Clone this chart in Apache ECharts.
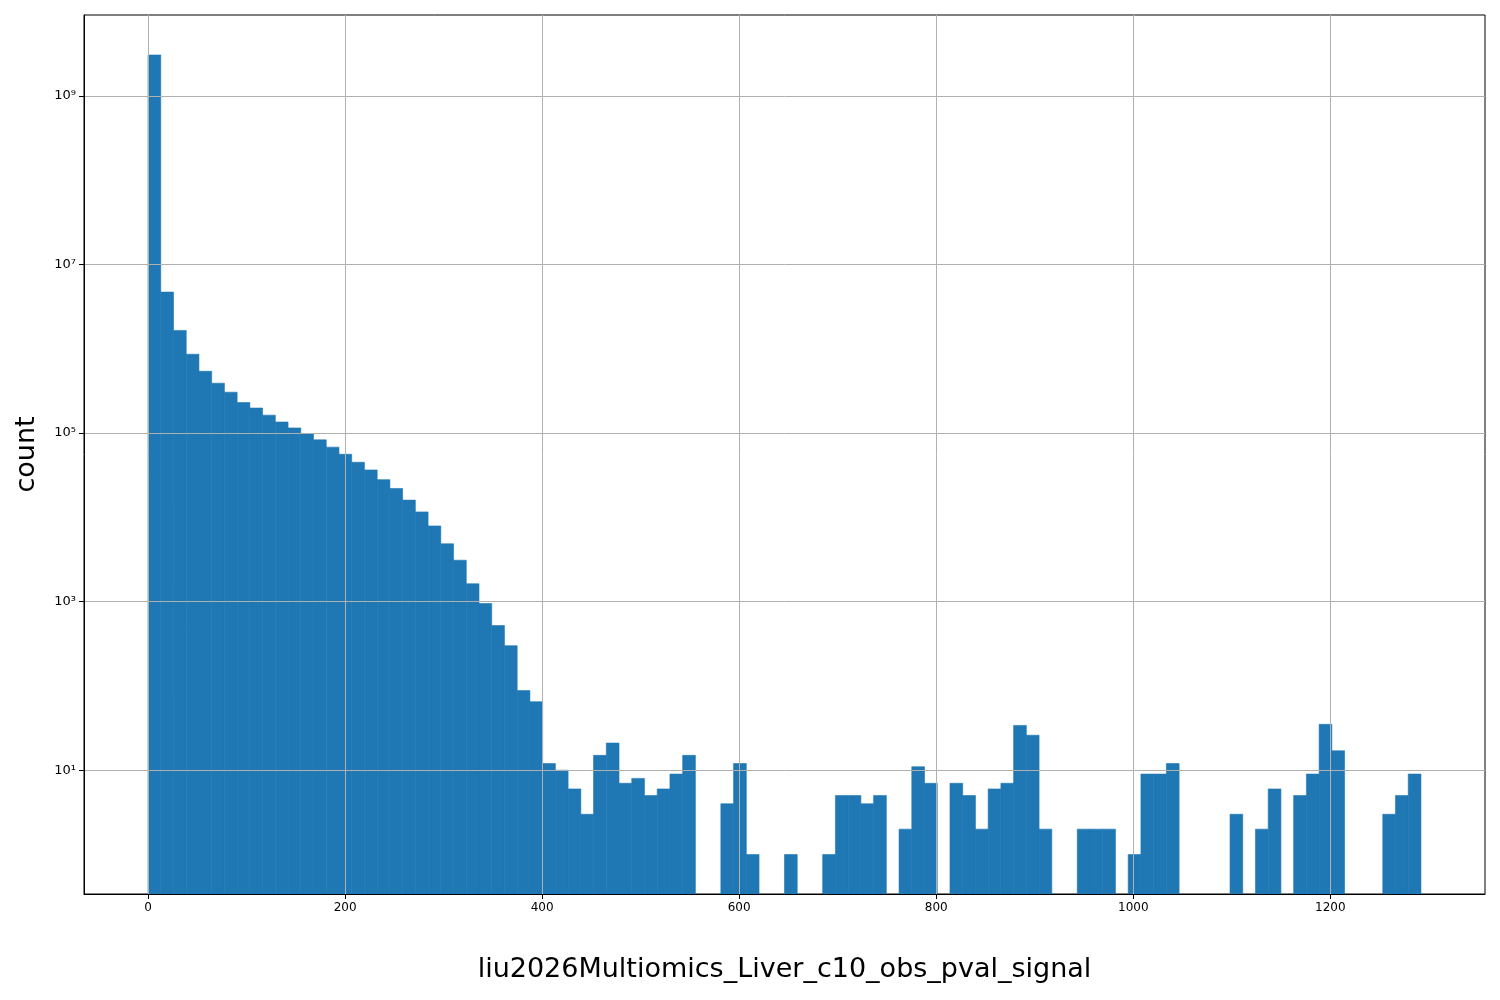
<!DOCTYPE html>
<html>
<head>
<meta charset="utf-8">
<script src="https://cdn.jsdelivr.net/npm/echarts@6/dist/echarts.min.js"></script>
<style>
  html, body { margin: 0; padding: 0; background: #fff; }
  #hist { width: 1500px; height: 1000px; }
</style>
</head>
<body>
<div id="hist"></div>
<script>
// Histogram bins: 100 equal bins from binStart to binEnd
var binStart = 0;
var binEnd = 1292;
var counts = [
    3.05e9, 4.7e6, 1.65e6, 8.6e5, 5.4e5, 3.9e5, 3.05e5, 2.3e5, 1.98e5, 1.63e5,
    1.35e5, 1.15e5, 9.8e4, 8.3e4, 6.8e4, 5.6e4, 4.5e4, 3.65e4, 2.8e4, 2.2e4,
    1.6e4, 1.16e4, 7.9e3, 4.85e3, 3.1e3, 1.63e3, 950, 520, 300, 88,
    65, 12, 10, 6, 3, 15, 21, 7, 8, 5,
    6, 9, 15, 0, 0, 4, 12, 1, 0, 0,
    1, 0, 0, 1, 5, 5, 4, 5, 0, 2,
    11, 7, 0, 7, 5, 2, 6, 7, 34, 26,
    2, 0, 0, 2, 2, 2, 0, 1, 9, 9,
    12, 0, 0, 0, 0, 3, 0, 2, 6, 0,
    5, 9, 35, 17, 0, 0, 0, 3, 5, 9
];
var xTicks = [0, 200, 400, 600, 800, 1000, 1200];
var yTickExps = [1, 3, 5, 7, 9];
var supDigits = { '0': '⁰', '1': '¹', '3': '³', '5': '⁵', '7': '⁷', '9': '⁹' };

var binWidth = (binEnd - binStart) / counts.length;
var yMin = Math.log10(0.34);
var yMax = Math.log10(9.1e9);

var bars = [];
counts.forEach(function (c, i) {
    if (c > 0) {
        bars.push([binStart + i * binWidth, binStart + (i + 1) * binWidth, Math.log10(c)]);
    }
});

var chart = echarts.init(document.getElementById('hist'));

chart.setOption({
    animation: false,
    textStyle: { fontFamily: 'DejaVu Sans' },
    grid: {
        left: 84, right: 15, top: 15, bottom: 106,
        show: true, borderColor: '#000', borderWidth: 1, backgroundColor: 'transparent'
    },
    xAxis: {
        type: 'value',
        min: -65,
        max: 1357,
        z: 10,
        name: 'liu2026Multiomics_Liver_c10_obs_pval_signal',
        nameLocation: 'middle',
        nameGap: 62,
        nameTextStyle: { fontSize: 27, color: '#000' },
        axisLine: { show: true, onZero: false, lineStyle: { color: '#000' } },
        axisTick: { show: true, length: 5, customValues: xTicks, lineStyle: { color: '#000' } },
        axisLabel: {
            customValues: xTicks, fontSize: 12, color: '#000', margin: 8,
            formatter: function (v) { return String(v); }
        },
        splitLine: { show: true, lineStyle: { color: '#b0b0b0', width: 1 } }
    },
    yAxis: {
        type: 'value',
        min: yMin,
        max: yMax,
        z: 10,
        name: 'count',
        nameLocation: 'middle',
        nameGap: 44,
        nameTextStyle: { fontSize: 27, color: '#000' },
        axisLine: { show: true, onZero: false, lineStyle: { color: '#000' } },
        axisTick: { show: true, length: 5, customValues: yTickExps, lineStyle: { color: '#000' } },
        axisLabel: {
            customValues: yTickExps, fontSize: 13, color: '#000', margin: 8,
            formatter: function (v) { return '10' + supDigits[String(Math.round(v))]; }
        },
        splitLine: { show: true, lineStyle: { color: '#b0b0b0', width: 1 } }
    },
    series: [{
        type: 'custom',
        z: 2,
        data: bars,
        renderItem: function (params, api) {
            var p0 = api.coord([api.value(0), yMin]);
            var p1 = api.coord([api.value(1), api.value(2)]);
            return {
                type: 'rect',
                shape: { x: p0[0], y: p1[1], width: p1[0] - p0[0], height: p0[1] - p1[1] },
                style: { fill: '#1f77b4', stroke: '#1f77b4', lineWidth: 0.6 }
            };
        }
    }]
});
</script>
</body>
</html>
